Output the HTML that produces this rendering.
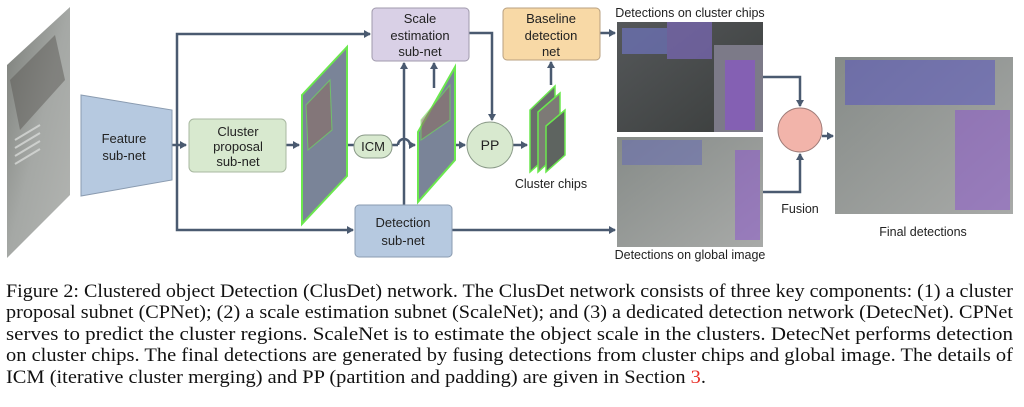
<!DOCTYPE html>
<html><head><meta charset="utf-8"><style>
html,body{margin:0;padding:0;background:#fff;}
svg{display:block;}
.l{font-family:"Liberation Sans",sans-serif;font-size:13px;fill:#222;text-anchor:middle;}
.c{font-family:"Liberation Serif",serif;font-size:18.5px;fill:#111;}
</style></head><body>
<svg width="1024" height="407" viewBox="0 0 1024 407" xmlns="http://www.w3.org/2000/svg">
<defs>
<marker id="a" markerWidth="8" markerHeight="8" refX="6" refY="4" orient="auto" markerUnits="userSpaceOnUse"><path d="M0,0 L7,4 L0,8 z" fill="#4a5a70"/></marker>
<linearGradient id="road" x1="0" y1="0" x2="1" y2="1"><stop offset="0" stop-color="#7a7d78"/><stop offset="0.5" stop-color="#a5a8a5"/><stop offset="1" stop-color="#b3b5b2"/></linearGradient>
<linearGradient id="dark" x1="0" y1="0" x2="1" y2="1"><stop offset="0" stop-color="#55585a"/><stop offset="1" stop-color="#3a3d3c"/></linearGradient>
<linearGradient id="gimg" x1="0" y1="0" x2="1" y2="1"><stop offset="0" stop-color="#868b88"/><stop offset="1" stop-color="#a8aaa8"/></linearGradient>
</defs>
<g stroke="#4a5a70" stroke-width="2.5" fill="none">
<path d="M172,145 H186" marker-end="url(#a)"/>
<path d="M177,145 V34 H370" marker-end="url(#a)"/>
<path d="M177,145 V230 H353" marker-end="url(#a)"/>
<path d="M286,145 H299" marker-end="url(#a)"/>
<path d="M347,145 H354"/>
<path d="M392,145 H398 M410,145 H415" marker-end="url(#a)"/>
<path d="M398,145 A6,6 0 0 1 410,145"/>
<path d="M404,205 V63" marker-end="url(#a)"/>
<path d="M434,88 V63" marker-end="url(#a)"/>
<path d="M455,145 H465" marker-end="url(#a)"/>
<path d="M469,33 H492 V120" marker-end="url(#a)"/>
<path d="M513,145 H527" marker-end="url(#a)"/>
<path d="M551,85 V62" marker-end="url(#a)"/>
<path d="M600,33 H615" marker-end="url(#a)"/>
<path d="M452,230 H615" marker-end="url(#a)"/>
<path d="M763,77 H800 V106" marker-end="url(#a)"/>
<path d="M763,192 H800 V154" marker-end="url(#a)"/>
<path d="M822,136 H833" marker-end="url(#a)"/>
</g>
<polygon points="7,65 70,7 70,195 7,258" fill="url(#road)"/>
<polygon points="10,80 55,35 65,80 20,130" fill="#5c5a56" opacity="0.5"/>
<g stroke="#d8dad8" stroke-width="2" opacity="0.8"><path d="M15,140 L40,125 M15,148 L40,133 M15,156 L40,141 M15,164 L40,149"/></g>
<polygon points="81,95 172,110 172,180 81,196" fill="#b6c9e0" stroke="#8a9bb0"/>
<text class="l" x="124" y="143">Feature</text><text class="l" x="124" y="160">sub-net</text>
<rect x="189" y="119" width="97" height="53" rx="5" fill="#d8e9cf" stroke="#a8b8a0"/>
<text class="l" x="238" y="136">Cluster</text><text class="l" x="238" y="151">proposal</text><text class="l" x="238" y="166">sub-net</text>
<polygon points="302,95 347,47 347,176 302,224" fill="#7a8498" stroke="#6be84e" stroke-width="2"/>
<polygon points="306,105 330,80 332,130 308,150" fill="#8a6d66" opacity="0.6" stroke="#6be84e"/>
<rect x="354" y="135" width="38" height="23" rx="11" fill="#d8e9cf" stroke="#8a9a88"/>
<text class="l" x="373" y="151">ICM</text>
<polygon points="418,132 455,67 455,160 418,202" fill="#7a8498" stroke="#6be84e" stroke-width="2"/>
<polygon points="421,120 450,85 450,120 421,140" fill="#8a6d66" opacity="0.6" stroke="#6be84e"/>
<rect x="372" y="8" width="97" height="53" rx="4" fill="#d9d0e6" stroke="#a09aac"/>
<text class="l" x="420" y="23">Scale</text><text class="l" x="420" y="40">estimation</text><text class="l" x="420" y="56">sub-net</text>
<rect x="355" y="205" width="97" height="52" rx="4" fill="#b6c9e0" stroke="#8a9bb0"/>
<text class="l" x="403" y="227">Detection</text><text class="l" x="403" y="245">sub-net</text>
<circle cx="490" cy="145" r="23" fill="#d8e9cf" stroke="#8a9a88"/>
<text class="l" x="490" y="150" style="font-size:14px">PP</text>
<rect x="503" y="8" width="97" height="52" rx="4" fill="#f8d9a6" stroke="#b8a080"/>
<text class="l" x="551" y="23">Baseline</text><text class="l" x="551" y="40">detection</text><text class="l" x="551" y="56">net</text>
<g stroke="#6be84e" stroke-width="1.5">
<polygon points="530,110 555,86 555,150 530,172" fill="#6a6e6c"/>
<polygon points="538,112 560,93 560,152 538,172" fill="#7d7a76"/>
<polygon points="546,126 565,110 565,155 546,172" fill="#5e6460"/>
</g>
<text class="l" x="551" y="188" style="font-size:12.5px">Cluster chips</text>
<text class="l" x="690" y="17" style="font-size:12.5px">Detections on cluster chips</text>
<rect x="617" y="22" width="146" height="110" fill="url(#dark)"/>
<rect x="622" y="28" width="45" height="26" fill="#6a6fb0" opacity="0.8"/>
<rect x="667" y="22" width="45" height="37" fill="#7a68b8" opacity="0.7"/>
<rect x="714" y="45" width="49" height="87" fill="#7c7a88"/>
<rect x="725" y="60" width="30" height="70" fill="#8a4fd0" opacity="0.6"/>
<rect x="617" y="137" width="146" height="110" fill="url(#gimg)"/>
<rect x="622" y="140" width="80" height="25" fill="#6a6fb0" opacity="0.6"/>
<rect x="735" y="150" width="25" height="90" fill="#8a4fd0" opacity="0.5"/>
<text class="l" x="690" y="259" style="font-size:12.5px">Detections on global image</text>
<circle cx="800" cy="130" r="22" fill="#f2b4aa" stroke="#a07c78"/>
<text class="l" x="800" y="213" style="font-size:12.5px">Fusion</text>
<rect x="835" y="57" width="178" height="157" fill="url(#gimg)"/>
<rect x="845" y="60" width="150" height="45" fill="#5a55c0" opacity="0.55"/>
<rect x="955" y="110" width="55" height="100" fill="#8a4fd0" opacity="0.5"/>
<text class="l" x="923" y="236" style="font-size:12.5px">Final detections</text>
<text class="c" x="6" y="297" textLength="1007" lengthAdjust="spacingAndGlyphs">Figure 2: Clustered object Detection (ClusDet) network. The ClusDet network consists of three key components: (1) a cluster</text>
<text class="c" x="6" y="318" textLength="1007" lengthAdjust="spacingAndGlyphs">proposal subnet (CPNet); (2) a scale estimation subnet (ScaleNet); and (3) a dedicated detection network (DetecNet). CPNet</text>
<text class="c" x="6" y="340" textLength="1007" lengthAdjust="spacingAndGlyphs">serves to predict the cluster regions.  ScaleNet is to estimate the object scale in the clusters.  DetecNet performs detection</text>
<text class="c" x="6" y="361" textLength="1007" lengthAdjust="spacingAndGlyphs">on cluster chips. The final detections are generated by fusing detections from cluster chips and global image. The details of</text>
<text class="c" x="6" y="383" textLength="700" lengthAdjust="spacingAndGlyphs">ICM (iterative cluster merging) and PP (partition and padding) are given in Section <tspan fill="#e8322a">3</tspan>.</text>
</svg>
</body></html>
